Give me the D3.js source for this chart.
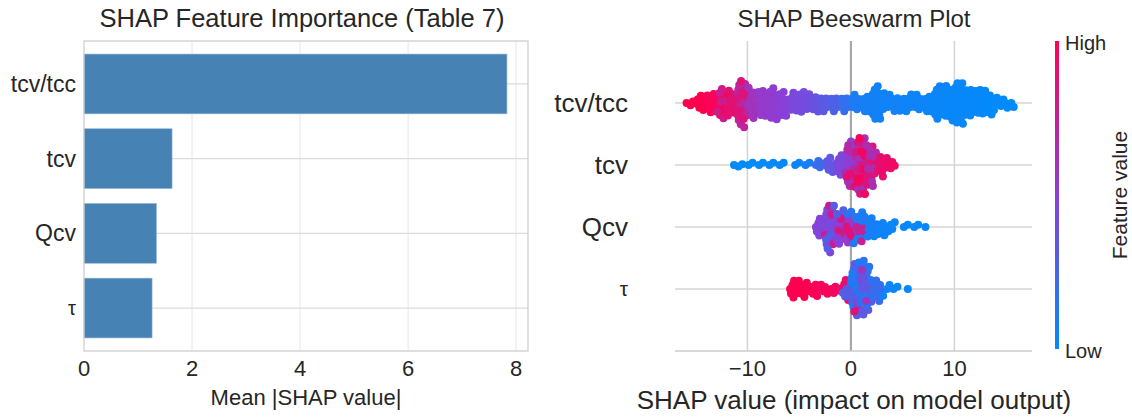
<!DOCTYPE html>
<html>
<head>
<meta charset="utf-8">
<script src="https://cdnjs.cloudflare.com/ajax/libs/d3/7.8.5/d3.min.js"></script>
<title>SHAP</title>
<style>
  body { margin: 0; background: #fff; }
  text { font-family: "Liberation Sans", Arial, sans-serif; fill: #262626; }
</style>
</head>
<body>
<div id="container"></div>
<script>
// Data
var features = ["tcv/tcc", "tcv", "Qcv", "τ"];
var meanAbsShap = [7.83, 1.63, 1.34, 1.26];
var barTicks = [0, 2, 4, 6, 8];
var swarmTicks = [-10, 0, 10];

// beeswarm bins: [shap value, number of dots, feature value 0 (low) .. 1 (high)]
var tcvTccBins = [
  [-15.5, 3, 1.0], [-14.5, 8, 1.0], [-13.5, 9, 0.97], [-12.5, 8, 0.95], [-12.5, 6, 0.78],
  [-11.5, 10, 0.88], [-10.5, 16, 0.72], [-10.5, 7, 0.85], [-9.5, 14, 0.6], [-8.5, 12, 0.55],
  [-7.5, 15, 0.53], [-6.5, 12, 0.5], [-5.5, 9, 0.45], [-4.5, 10, 0.42], [-3.5, 8, 0.38],
  [-2.5, 7, 0.33], [-1.5, 7, 0.28], [-0.5, 7, 0.18], [0.5, 7, 0.1], [1.5, 8, 0.08],
  [2.5, 16, 0.07], [3.5, 8, 0.06], [4.5, 7, 0.06], [5.5, 8, 0.05], [6.5, 7, 0.05],
  [7.5, 8, 0.04], [8.5, 15, 0.04], [9.5, 16, 0.03], [10.5, 21, 0.03], [11.5, 14, 0.02],
  [12.5, 13, 0.02], [13.5, 10, 0.01], [14.5, 5, 0.01], [15.5, 3, 0.0]
];
var tcvBins = [
  [-11.3, 1, 0.0], [-10.5, 2, 0.0], [-9.5, 2, 0.0], [-8.5, 2, 0.01], [-7.5, 2, 0.02],
  [-6.5, 2, 0.02], [-5.0, 2, 0.04], [-4.0, 2, 0.08], [-3.0, 4, 0.2], [-2.0, 7, 0.35],
  [-1.0, 9, 0.45], [0.0, 12, 0.52], [0.0, 8, 0.68], [0.0, 3, 0.88], [1.0, 12, 0.62],
  [1.0, 8, 0.82], [1.0, 9, 0.95], [2.0, 10, 0.85], [2.0, 9, 0.65], [3.0, 9, 0.9], [4.0, 4, 0.93]
];
var qcvBins = [
  [-3.0, 9, 0.48], [-2.0, 15, 0.45], [-2.0, 4, 0.8], [-2.0, 4, 0.32], [-1.0, 10, 0.5],
  [-1.0, 4, 0.82], [-1.0, 2, 0.3], [0.0, 8, 0.55], [0.0, 4, 0.85], [0.0, 4, 0.15],
  [1.0, 9, 0.1], [1.0, 5, 0.75], [2.0, 9, 0.08], [3.0, 6, 0.05], [4.0, 4, 0.04],
  [5.5, 2, 0.02], [6.5, 2, 0.02], [7.2, 1, 0.02]
];
var tauBins = [
  [-5.5, 9, 1.0], [-4.5, 7, 1.0], [-3.5, 6, 0.98], [-2.5, 4, 0.97], [-1.5, 4, 0.95],
  [-0.5, 4, 0.9], [-0.5, 5, 0.3], [0.5, 14, 0.3], [0.5, 9, 0.12], [0.5, 2, 0.85],
  [0.5, 2, 0.45], [1.5, 12, 0.35], [1.5, 9, 0.15], [1.5, 2, 0.6], [2.5, 9, 0.2],
  [3.5, 3, 0.05], [4.5, 2, 0.03], [5.5, 1, 0.02]
];
var swarmBins = [tcvTccBins, tcvBins, qcvBins, tauBins];

var W = 1132, H = 419;
var svg = d3.select("#container").append("svg")
  .attr("width", W).attr("height", H);

// ---------- left: bar chart ----------
var xb = d3.scaleLinear().domain([0, 8.22]).range([84, 528]);
var yb = d3.scaleLinear().domain([-0.575, 3.575]).range([41, 351]);
var barH = yb(0.4) - yb(-0.4);

var left = svg.append("g");
left.selectAll("line.vgrid").data(barTicks.slice(1)).enter().append("line")
  .attr("x1", xb).attr("x2", xb).attr("y1", 41).attr("y2", 351)
  .attr("stroke", "#ebebeb").attr("stroke-width", 1.2);
left.selectAll("line.hgrid").data(features).enter().append("line")
  .attr("x1", 84).attr("x2", 528)
  .attr("y1", function(d, i) { return yb(i); }).attr("y2", function(d, i) { return yb(i); })
  .attr("stroke", "#dcdcdc").attr("stroke-width", 1.2);
left.selectAll("rect.bar").data(meanAbsShap).enter().append("rect")
  .attr("x", xb(0))
  .attr("y", function(d, i) { return yb(i) - barH / 2; })
  .attr("width", function(d) { return xb(d) - xb(0); })
  .attr("height", barH)
  .attr("fill", "#4682b4").attr("stroke", "#8fb3d6").attr("stroke-width", 0.6);
left.append("rect").attr("x", 84).attr("y", 41).attr("width", 444).attr("height", 310)
  .attr("fill", "none").attr("stroke", "#cccccc").attr("stroke-width", 1.25);
left.selectAll("text.ylab").data(features).enter().append("text")
  .attr("x", 76).attr("y", function(d, i) { return yb(i); })
  .attr("dy", "0.35em").attr("text-anchor", "end")
  .style("font-size", function(d) { return d === "τ" ? "20px" : "23px"; })
  .text(function(d) { return d; });
left.selectAll("text.xtick").data(barTicks).enter().append("text")
  .attr("x", xb).attr("y", 376).attr("text-anchor", "middle")
  .style("font-size", "22px").text(function(d) { return d; });
left.append("text").attr("x", 306).attr("y", 405).attr("text-anchor", "middle")
  .style("font-size", "22px").text("Mean |SHAP value|");
left.append("text").attr("x", 302).attr("y", 27).attr("text-anchor", "middle")
  .style("font-size", "25.5px").text("SHAP Feature Importance (Table 7)");

// ---------- right: beeswarm ----------
var xs = d3.scaleLinear().domain([-17, 17.5]).range([675, 1032]);
var ys = d3.scaleLinear().domain([-1, 4]).range([41, 351]);
var colour = d3.scaleLinear().domain([0, 0.5, 1]).range(["#008bfb", "#8a40d8", "#ff0051"]);

var right = svg.append("g");
right.selectAll("line.row").data(features).enter().append("line")
  .attr("x1", 675).attr("x2", 1032)
  .attr("y1", function(d, i) { return ys(i); }).attr("y2", function(d, i) { return ys(i); })
  .attr("stroke", "#d4d4d4").attr("stroke-width", 1.5);
right.selectAll("line.vgrid").data(swarmTicks).enter().append("line")
  .attr("x1", xs).attr("x2", xs).attr("y1", 41).attr("y2", 351)
  .attr("stroke", function(d) { return d === 0 ? "#a8a8a8" : "#d4d4d4"; })
  .attr("stroke-width", function(d) { return d === 0 ? 2.2 : 1.5; });
right.append("line").attr("x1", 675).attr("x2", 1032).attr("y1", 351).attr("y2", 351)
  .attr("stroke", "#cccccc").attr("stroke-width", 1.5);

// dots: spread each bin across its width, then dodge vertically (beeswarm)
var binPx = xs(1) - xs(0);
var minDist = 4.6;
var nodes = [];
swarmBins.forEach(function(bins, row) {
  var used = {};
  var rowNodes = [];
  bins.forEach(function(b) {
    for (var j = 0; j < b[1]; j++) {
      var k = used[b[0]] || 0;
      used[b[0]] = k + 1;
      var frac = (0.5 + k * 0.618034) % 1;
      rowNodes.push({ x: xs(b[0]) + (frac - 0.5) * binPx, cy: ys(row), f: b[2], dy: 0 });
    }
  });
  var order = rowNodes.slice().sort(function(a, b) { return a.x - b.x; });
  var placed = [];
  order.forEach(function(n, idx) {
    var near = placed.filter(function(p) { return Math.abs(p.x - n.x) < minDist; });
    var cands = [0];
    near.forEach(function(p) {
      var h = Math.sqrt(minDist * minDist - (p.x - n.x) * (p.x - n.x));
      cands.push(p.dy + h + 0.01, p.dy - h - 0.01);
    });
    var side = idx % 2 ? 1 : -1;
    cands.sort(function(a, b) {
      return Math.abs(a) - Math.abs(b) || side * (b - a);
    });
    for (var c = 0; c < cands.length; c++) {
      var y = cands[c];
      var ok = near.every(function(p) {
        var dx = p.x - n.x, dy = p.dy - y;
        return dx * dx + dy * dy >= minDist * minDist - 0.001;
      });
      if (ok) { n.dy = y; break; }
    }
    placed.push(n);
  });
  nodes = nodes.concat(rowNodes);
});

right.selectAll("circle.dot").data(nodes).enter().append("circle")
  .attr("cx", function(d) { return d.x; })
  .attr("cy", function(d) { return d.cy + d.dy; })
  .attr("r", 4)
  .attr("fill", function(d) { return colour(d.f); });

right.selectAll("text.ylab").data(features).enter().append("text")
  .attr("x", 628).attr("y", function(d, i) { return ys(i); })
  .attr("dy", "0.35em").attr("text-anchor", "end")
  .style("font-size", function(d) { return d === "τ" ? "21px" : "26px"; })
  .text(function(d) { return d; });
right.selectAll("text.xtick").data(swarmTicks).enter().append("text")
  .attr("x", xs).attr("y", 376).attr("text-anchor", "middle")
  .style("font-size", "22px").text(function(d) { return d < 0 ? "\u2212" + Math.abs(d) : d; });
right.append("text").attr("x", 854).attr("y", 409).attr("text-anchor", "middle")
  .style("font-size", "26px").text("SHAP value (impact on model output)");
right.append("text").attr("x", 854).attr("y", 27).attr("text-anchor", "middle")
  .style("font-size", "24px").text("SHAP Beeswarm Plot");

// colour bar
var grad = svg.append("defs").append("linearGradient").attr("id", "cbar")
  .attr("x1", 0).attr("y1", 1).attr("x2", 0).attr("y2", 0);
d3.range(0, 1.01, 0.1).forEach(function(s) {
  grad.append("stop").attr("offset", s).attr("stop-color", colour(s));
});
svg.append("rect").attr("x", 1055).attr("y", 41).attr("width", 4).attr("height", 308)
  .attr("fill", "url(#cbar)");
svg.append("text").attr("x", 1065).attr("y", 50).style("font-size", "20px").text("High");
svg.append("text").attr("x", 1065).attr("y", 358).style("font-size", "20px").text("Low");
svg.append("text").attr("transform", "translate(1127,195) rotate(-90)")
  .attr("text-anchor", "middle").style("font-size", "21px").text("Feature value");
</script>
</body>
</html>
